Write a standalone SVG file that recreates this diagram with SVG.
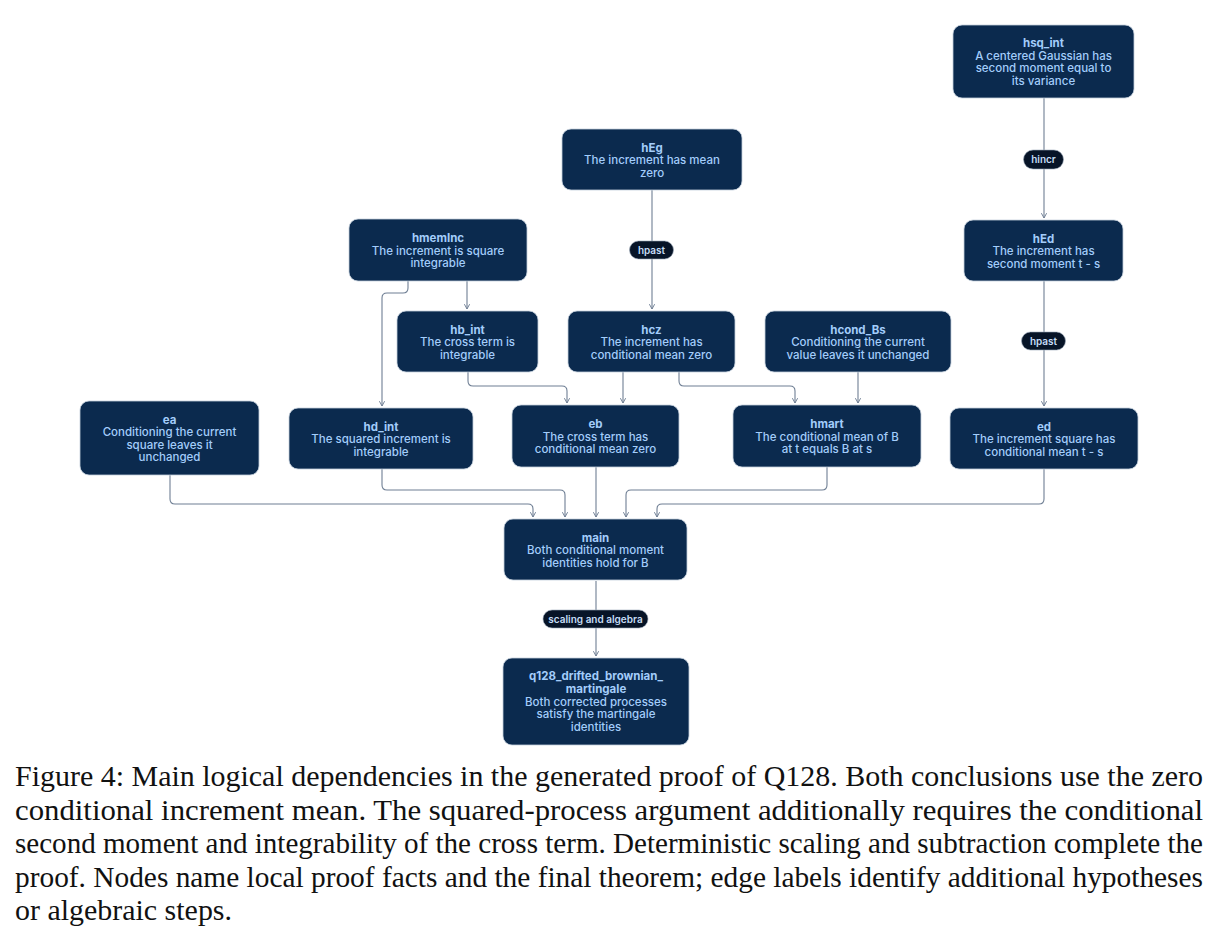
<svg xmlns="http://www.w3.org/2000/svg" width="1219" height="948" viewBox="0 0 1219 948">
<style>
.nd rect{fill:#0b2a4e;stroke:#c4cfdc;stroke-width:0.8}
.nd text{font-family:Inter,"Noto Sans","Liberation Sans",sans-serif;font-size:11.5px;fill:#a3cdfb;text-anchor:middle;font-weight:500}
.nd text.t{font-weight:700}
.ed path{fill:none;stroke:#6f7f94;stroke-width:1.1}
.pl rect{fill:#071427;stroke:#9aa8b8;stroke-width:0.6}
.pl text{font-family:Inter,"Noto Sans","Liberation Sans",sans-serif;font-size:10px;font-weight:600;fill:#c5dcf5;text-anchor:middle}
.cap{font-family:"Liberation Serif","Times New Roman",serif;font-size:29.5px;fill:#111}
</style>
<defs>
<marker id="ah" viewBox="0 0 8 8" refX="7" refY="4" markerWidth="7" markerHeight="7" markerUnits="userSpaceOnUse" orient="auto">
<path d="M1.5,1 L7,4 L1.5,7" fill="none" stroke="#6f7f94" stroke-width="1.1"/>
</marker>
</defs>
<rect width="1219" height="948" fill="#ffffff"/>

<g id="connectors" class="ed">
<path d="M1044,98 V218" marker-end="url(#ah)"/>
<path d="M652,190 V309" marker-end="url(#ah)"/>
<path d="M1044,281 V406" marker-end="url(#ah)"/>
<path d="M408,281 V288 Q408,293 403,293 H387 Q382,293 382,298 V406" marker-end="url(#ah)"/>
<path d="M467,281 V309" marker-end="url(#ah)"/>
<path d="M468,372 V381 Q468,386 473,386 H562 Q567,386 567,391 V403" marker-end="url(#ah)"/>
<path d="M623,372 V403" marker-end="url(#ah)"/>
<path d="M679,372 V381 Q679,386 684,386 H790 Q795,386 795,391 V403" marker-end="url(#ah)"/>
<path d="M858,372 V403" marker-end="url(#ah)"/>
<path d="M170,475 V499 Q170,504 175,504 H528 Q533,504 533,509 V517" marker-end="url(#ah)"/>
<path d="M382,469 V485 Q382,490 387,490 H560 Q565,490 565,495 V517" marker-end="url(#ah)"/>
<path d="M596,467 V517" marker-end="url(#ah)"/>
<path d="M827,467 V485 Q827,490 822,490 H631 Q626,490 626,495 V517" marker-end="url(#ah)"/>
<path d="M1044,469 V499 Q1044,504 1039,504 H662 Q657,504 657,509 V517" marker-end="url(#ah)"/>
<path d="M596,581 V656" marker-end="url(#ah)"/>
<g class="pl">
<rect x="1023.5" y="150" width="40" height="19" rx="9.5"/><text x="1043.5" y="163">hincr</text>
<rect x="629.5" y="241" width="44" height="18" rx="9"/><text x="651.5" y="253.5">hpast</text>
<rect x="1021.5" y="332" width="44" height="18" rx="9"/><text x="1043.5" y="344.5">hpast</text>
<rect x="543" y="610" width="105" height="18" rx="9"/><text x="595.5" y="622.5">scaling and algebra</text>
</g>
</g>

<g id="hsq_int" class="nd"><rect x="953" y="25" width="181" height="73" rx="9"/>
<text class="t" x="1043.5" y="47">hsq_int</text><text x="1043.5" y="59.5">A centered Gaussian has</text><text x="1043.5" y="72">second moment equal to</text><text x="1043.5" y="84.5">its variance</text></g>

<g id="hEg" class="nd"><rect x="562" y="129" width="180" height="61" rx="9"/>
<text class="t" x="652" y="151.5">hEg</text><text x="652" y="164">The increment has mean</text><text x="652" y="176.5">zero</text></g>

<g id="hmemInc" class="nd"><rect x="349" y="219" width="178" height="62" rx="9"/>
<text class="t" x="438" y="242">hmemInc</text><text x="438" y="254.5">The increment is square</text><text x="438" y="267">integrable</text></g>

<g id="hEd" class="nd"><rect x="964" y="220" width="159" height="61" rx="9"/>
<text class="t" x="1043.5" y="242.5">hEd</text><text x="1043.5" y="255">The increment has</text><text x="1043.5" y="267.5">second moment t - s</text></g>

<g id="hb_int" class="nd"><rect x="397" y="311" width="141" height="61" rx="9"/>
<text class="t" x="467.5" y="333.5">hb_int</text><text x="467.5" y="346">The cross term is</text><text x="467.5" y="358.5">integrable</text></g>

<g id="hcz" class="nd"><rect x="568" y="311" width="167" height="61" rx="9"/>
<text class="t" x="651.5" y="333.5">hcz</text><text x="651.5" y="346">The increment has</text><text x="651.5" y="358.5">conditional mean zero</text></g>

<g id="hcond_Bs" class="nd"><rect x="765" y="311" width="186" height="61" rx="9"/>
<text class="t" x="858" y="333.5">hcond_Bs</text><text x="858" y="346">Conditioning the current</text><text x="858" y="358.5">value leaves it unchanged</text></g>

<g id="ea" class="nd"><rect x="80" y="401" width="179" height="74" rx="9"/>
<text class="t" x="169.5" y="423.5">ea</text><text x="169.5" y="436">Conditioning the current</text><text x="169.5" y="448.5">square leaves it</text><text x="169.5" y="461">unchanged</text></g>

<g id="hd_int" class="nd"><rect x="289" y="408" width="184" height="61" rx="9"/>
<text class="t" x="381" y="430.5">hd_int</text><text x="381" y="443">The squared increment is</text><text x="381" y="455.5">integrable</text></g>

<g id="eb" class="nd"><rect x="512" y="405" width="167" height="62" rx="9"/>
<text class="t" x="595.5" y="428">eb</text><text x="595.5" y="440.5">The cross term has</text><text x="595.5" y="453">conditional mean zero</text></g>

<g id="hmart" class="nd"><rect x="733" y="405" width="188" height="62" rx="9"/>
<text class="t" x="827" y="428">hmart</text><text x="827" y="440.5">The conditional mean of B</text><text x="827" y="453">at t equals B at s</text></g>

<g id="ed" class="nd"><rect x="950" y="408" width="188" height="61" rx="9"/>
<text class="t" x="1044" y="430.5">ed</text><text x="1044" y="443">The increment square has</text><text x="1044" y="455.5">conditional mean t - s</text></g>

<g id="main" class="nd"><rect x="504" y="519" width="183" height="61" rx="9"/>
<text class="t" x="595.5" y="541.5">main</text><text x="595.5" y="554">Both conditional moment</text><text x="595.5" y="566.5">identities hold for B</text></g>

<g id="q128_drifted_brownian_martingale" class="nd"><rect x="503" y="658" width="186" height="87" rx="9"/>
<text class="t" x="596" y="680">q128_drifted_brownian_</text><text class="t" x="596" y="693">martingale</text><text x="596" y="705.5">Both corrected processes</text><text x="596" y="718">satisfy the martingale</text><text x="596" y="730.5">identities</text></g>

<g id="caption">
<text class="cap" x="15" y="786" textLength="1188" lengthAdjust="spacingAndGlyphs">Figure 4: Main logical dependencies in the generated proof of Q128. Both conclusions use the zero</text>
<text class="cap" x="15" y="820" textLength="1188" lengthAdjust="spacingAndGlyphs">conditional increment mean. The squared-process argument additionally requires the conditional</text>
<text class="cap" x="15" y="853" textLength="1188" lengthAdjust="spacingAndGlyphs">second moment and integrability of the cross term. Deterministic scaling and subtraction complete the</text>
<text class="cap" x="15" y="887" textLength="1188" lengthAdjust="spacingAndGlyphs">proof. Nodes name local proof facts and the final theorem; edge labels identify additional hypotheses</text>
<text class="cap" x="15" y="920" textLength="217" lengthAdjust="spacingAndGlyphs">or algebraic steps.</text>
</g>
</svg>
